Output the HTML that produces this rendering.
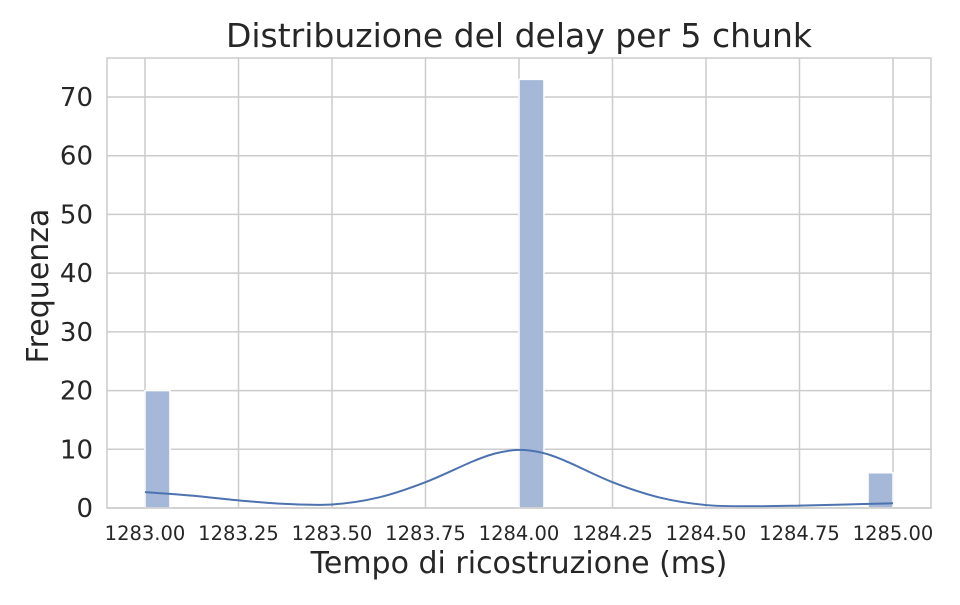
<!DOCTYPE html>
<html><head><meta charset="utf-8"><style>
body{margin:0;background:#fff;}
svg text{font-family:"DejaVu Sans","Liberation Sans",sans-serif;fill:#262626;}
</style></head><body>
<svg id="chart" width="960" height="600" xmlns="http://www.w3.org/2000/svg">
<text x="519" y="47" font-size="33" text-anchor="middle">Distribuzione del delay per 5 chunk</text>
<text x="519" y="573" font-size="30" text-anchor="middle">Tempo di ricostruzione (ms)</text>
<text transform="translate(48,286) rotate(-90)" font-size="30" text-anchor="middle">Frequenza</text>
<g id="grid"></g><g id="bars"></g><g id="kde"></g><g id="ticks"></g>
<rect x="107" y="58" width="824" height="450" fill="none" stroke="#cccccc" stroke-width="1.5"/>
</svg>
<script>
const binStarts=[1283.0,1284.0,1284.9333];
const binCounts=[20,73,6];
const binWidth=0.0667;
const xTicks=[1283.00,1283.25,1283.50,1283.75,1284.00,1284.25,1284.50,1284.75,1285.00];
const yTicks=[0,10,20,30,40,50,60,70];
const kdeX=[1283.0,1283.125,1283.25,1283.375,1283.5,1283.625,1283.75,1283.875,1283.9375,1284.0,1284.0625,1284.125,1284.25,1284.375,1284.5,1284.625,1284.75,1284.875,1285.0];
const kdeY=[2.7,2.1,1.3,0.7,0.6,1.8,4.4,7.9,9.3,9.9,9.4,8.0,4.4,1.8,0.5,0.3,0.4,0.6,0.8];
const NS='http://www.w3.org/2000/svg';
const X=v=>145+(v-1283)*374;
const Y=v=>508-v*(411/70);
function mk(t,a,p){const e=document.createElementNS(NS,t);for(const k in a)e.setAttribute(k,a[k]);p.appendChild(e);return e;}
const grid=document.getElementById('grid'),ticks=document.getElementById('ticks');
xTicks.forEach(t=>{
 const l=mk('line',{x1:X(t),x2:X(t),y1:58,y2:508,stroke:'#cccccc','stroke-width':1.5},grid);
 
 
 const tx=mk('text',{x:X(t),y:540,'font-size':19.5,'text-anchor':'middle'},ticks);
 tx.textContent=t.toFixed(2);
 
 
});
yTicks.forEach(t=>{
 const l=mk('line',{x1:107,x2:931,y1:Y(t),y2:Y(t),stroke:'#cccccc','stroke-width':1.5},grid);
 
 
 const tx=mk('text',{x:93,y:Y(t)+9,'font-size':26,'text-anchor':'end'},ticks);
 tx.textContent=t;
 
 
});
const bars=document.getElementById('bars');
binStarts.forEach((s,i)=>{
 const r=mk('rect',{x:X(s),y:Y(binCounts[i]),width:X(s+binWidth)-X(s),height:Y(0)-Y(binCounts[i]),fill:'#a5b8d8',stroke:'#ffffff','stroke-width':1.5},bars);
 
 
});
let pts=kdeX.map((x,i)=>[X(x),Y(kdeY[i])]);
let d='M'+pts[0][0]+','+pts[0][1];
for(let i=0;i<pts.length-1;i++){
 const p0=pts[Math.max(i-1,0)],p1=pts[i],p2=pts[i+1],p3=pts[Math.min(i+2,pts.length-1)];
 d+=' C'+(p1[0]+(p2[0]-p0[0])/6)+','+(p1[1]+(p2[1]-p0[1])/6)+' '+(p2[0]-(p3[0]-p1[0])/6)+','+(p2[1]-(p3[1]-p1[1])/6)+' '+p2[0]+','+p2[1];
}
const k=mk('path',{d:d,fill:'none',stroke:'#4c72b0','stroke-width':2},document.getElementById('kde'));


</script>
</body></html>
